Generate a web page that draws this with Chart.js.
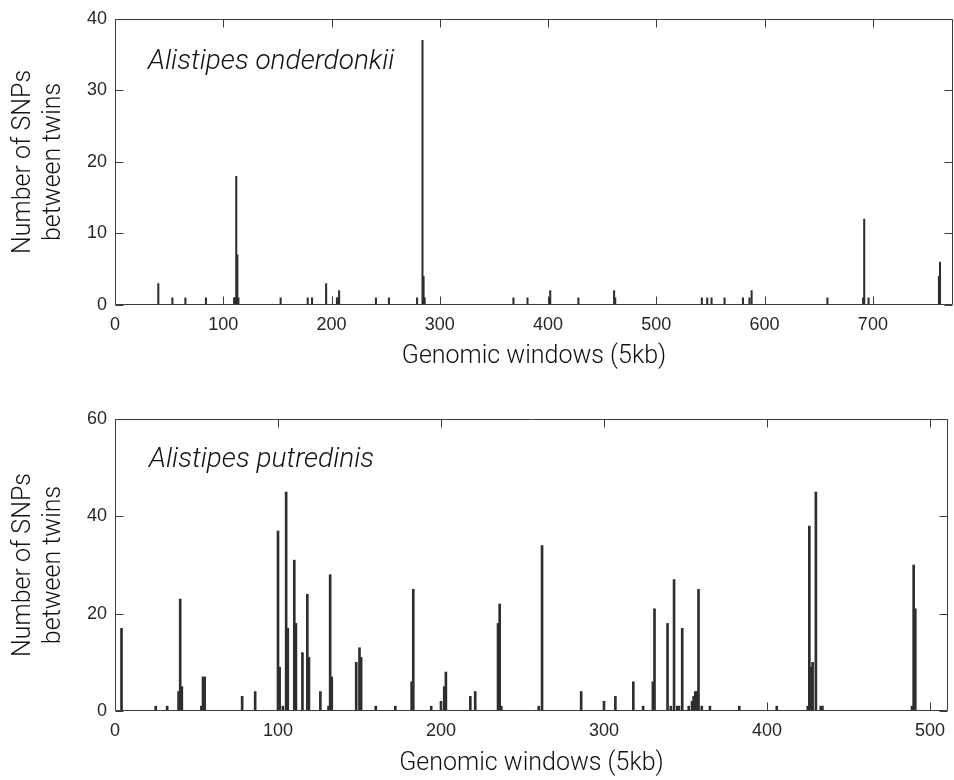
<!DOCTYPE html>
<html>
<head>
<meta charset="utf-8">
<script src="https://cdn.jsdelivr.net/npm/chart.js@4.4.1/dist/chart.umd.min.js"></script>
<style>
html,body{margin:0;padding:0;background:#fff;}
#wrap{position:relative;width:954px;height:780px;overflow:hidden;}
#c1{position:absolute;left:0;top:0;}
#c2{position:absolute;left:0;top:400px;}
</style>
</head>
<body>
<div id="wrap">
<canvas id="c1" width="954" height="390"></canvas>
<canvas id="c2" width="954" height="380"></canvas>
</div>
<script>
// ---- Data ----
const speciesTop = 'Alistipes onderdonkii';
const speciesBottom = 'Alistipes putredinis';
const xAxisLabel = 'Genomic windows (5kb)';
const yAxisLabel = ['Number of SNPs', 'between twins'];

const onderdonkiiWindows = [40, 53, 65, 84, 110, 111, 112, 113, 114, 153, 178, 182, 195, 205, 206, 207, 241, 253, 279, 284, 285, 286, 368, 381, 401, 402, 428, 461, 462, 542, 547, 551, 563, 580, 586, 588, 658, 691, 692, 696, 761, 762];
const onderdonkiiSNPs    = [3,  1,  1,  1,  1,   1,   18,  7,   1,   1,   1,   1,   3,   1,   1,   2,   1,   1,   1,   37,  4,   1,   1,   1,   1,   2,   1,   2,   1,   1,   1,   1,   1,   1,   1,   2,   1,   1,   12,  1,   4,   6];

const putredinisWindows = [4, 25, 32, 39, 40, 41, 53, 54, 55, 78, 86, 100, 101, 103, 105, 106, 110, 111, 115, 118, 119, 126, 131, 132, 133, 148, 150, 151, 160, 172, 182, 183, 194, 200, 202, 203, 218, 221, 235, 236, 237, 260, 262, 286, 300, 307, 318, 324, 330, 331, 339, 341, 343, 345, 346, 348, 352, 354, 355, 356, 357, 358, 360, 365, 383, 406, 425, 426, 427, 428, 430, 433, 434, 489, 490, 491];
const putredinisSNPs    = [17, 1, 1, 4, 23, 5, 1, 7, 7, 3, 4, 37, 9, 1, 45, 17, 31, 18, 12, 24, 11, 4, 1, 28, 7, 10, 13, 11, 1, 1, 6, 25, 1, 2, 5, 8, 3, 4, 18, 22, 1, 1, 34, 4, 2, 3, 6, 1, 6, 21, 18, 1, 27, 1, 1, 17, 1, 2, 3, 4, 4, 25, 1, 1, 1, 1, 1, 38, 9, 10, 45, 1, 1, 1, 30, 21];

const topXTicks = [0, 100, 200, 300, 400, 500, 600, 700];
const topYTicks = [0, 10, 20, 30, 40];
const bottomXTicks = [0, 100, 200, 300, 400, 500];
const bottomYTicks = [0, 20, 40, 60];

// ---- Styling ----
const AXIS_COLOR = '#3c3c3c';
const BAR_COLOR = '#2e2e2e';
const TEXT_COLOR = '#262626';
const TICK_FONT = {family: '"Liberation Sans", Arial, sans-serif', size: 18};
const LABEL_FONT = {family: 'Roboto, "Liberation Sans", sans-serif', size: 25, weight: '300'};

const framePlugin = {
  id: 'frame',
  afterDatasetsDraw(chart, args, opts) {
    const {ctx, chartArea: a} = chart;
    const xs = chart.scales.x, ys = chart.scales.y;
    const L = Math.round(a.left) + 0.5, R = Math.round(a.right) - 0.5;
    const T = Math.round(a.top) + 0.5, B = Math.round(a.bottom) - 0.5;
    const tl = 8;
    ctx.save();
    ctx.strokeStyle = AXIS_COLOR;
    ctx.lineWidth = 1;
    ctx.beginPath();
    ctx.rect(L, T, R - L, B - T);
    xs.ticks.forEach(t => {
      const p = Math.round(xs.getPixelForValue(t.value)) + 0.5;
      ctx.moveTo(p, B); ctx.lineTo(p, B - tl);
      ctx.moveTo(p, T); ctx.lineTo(p, T + tl);
    });
    ys.ticks.forEach(t => {
      const p = Math.round(ys.getPixelForValue(t.value)) + 0.5;
      ctx.moveTo(L, p); ctx.lineTo(L + tl, p);
      ctx.moveTo(R, p); ctx.lineTo(R - tl, p);
    });
    ctx.stroke();
    ctx.font = 'italic 300 28px Roboto, "Liberation Sans", sans-serif';
    ctx.fillStyle = '#111';
    ctx.textBaseline = 'alphabetic';
    ctx.textAlign = 'left';
    ctx.fillText(opts.text, a.left + opts.dx, a.top + opts.dy);
    ctx.restore();
  }
};

function makeChart(canvasId, xs, ys, cfg) {
  return new Chart(document.getElementById(canvasId), {
    type: 'bar',
    data: {
      datasets: [{
        data: xs.map((x, i) => ({x: x, y: ys[i]})),
        backgroundColor: BAR_COLOR,
        borderWidth: 0,
        barThickness: cfg.barThickness
      }]
    },
    options: {
      responsive: false,
      animation: false,
      devicePixelRatio: 1,
      layout: {padding: {top: cfg.padTop, right: 1, left: 0, bottom: 0}},
      plugins: {
        legend: {display: false},
        tooltip: {enabled: false},
        frame: {text: cfg.name, dx: cfg.dx, dy: cfg.dy}
      },
      scales: {
        x: {
          type: 'linear',
          min: 0, max: cfg.xMax,
          offset: false,
          afterBuildTicks: s => { s.ticks = cfg.xTicks.map(v => ({value: v})); },
          afterFit: s => { s.height = cfg.xHeight; },
          grid: {display: false, drawTicks: false, offset: false},
          border: {display: false},
          ticks: {font: TICK_FONT, color: TEXT_COLOR, padding: 9, maxRotation: 0, autoSkip: false, includeBounds: false},
          title: {display: true, text: xAxisLabel, font: LABEL_FONT, color: '#111', padding: {top: 0, bottom: cfg.xTitlePad}}
        },
        y: {
          type: 'linear',
          min: 0, max: cfg.yMax,
          afterBuildTicks: s => { s.ticks = cfg.yTicks.map(v => ({value: v})); },
          afterFit: s => { s.width = 115; },
          grid: {display: false, drawTicks: false},
          border: {display: false},
          ticks: {font: TICK_FONT, color: TEXT_COLOR, padding: 8, includeBounds: false},
          title: {display: true, text: yAxisLabel, font: LABEL_FONT, color: '#111', padding: {top: 9, bottom: 0}}
        }
      }
    },
    plugins: [framePlugin]
  });
}

makeChart('c1', onderdonkiiWindows, onderdonkiiSNPs, {
  name: speciesTop, dx: 33, dy: 50,
  xMax: 774, yMax: 40, xTicks: topXTicks, yTicks: topYTicks,
  padTop: 13, xHeight: 85, xTitlePad: 18, barThickness: 1.4
});
makeChart('c2', putredinisWindows, putredinisSNPs, {
  name: speciesBottom, dx: 34, dy: 48,
  xMax: 511, yMax: 60, xTicks: bottomXTicks, yTicks: bottomYTicks,
  padTop: 19, xHeight: 69, xTitlePad: 1, barThickness: 2.0
});
</script>
</body>
</html>
